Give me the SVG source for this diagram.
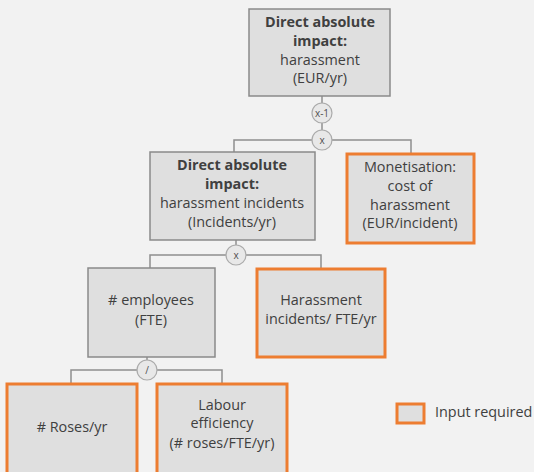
<svg xmlns="http://www.w3.org/2000/svg" width="534" height="472" viewBox="0 0 534 472">
  <style>
    .box { fill: #dfdfdf; stroke: #8a8a8a; stroke-width: 1.5; }
    .input { fill: #dfdfdf; stroke: #ed7d31; stroke-width: 3; }
    .op { fill: #e8e8e8; stroke: #ababab; stroke-width: 1.2; }
    .link { fill: none; stroke: #8f8f8f; stroke-width: 1.5; }
    text { font-family: "Open Sans", "Noto Sans", sans-serif; font-size: 14.4px; fill: #404040; text-anchor: middle; }
    .b { font-weight: bold; }
    .opt { font-size: 10px; fill: #505050; }
    .leg { text-anchor: start; }
  </style>
  <rect width="534" height="472" fill="#f2f2f2"/>

  <g id="connectors">
    <path class="link" d="M322 96 V140"/>
    <path class="link" d="M234 152 V140 H411 V154"/>
    <path class="link" d="M236 240 V255"/>
    <path class="link" d="M150 268 V255 H321 V269"/>
    <path class="link" d="M147 357 V370"/>
    <path class="link" d="M71 384 V370 H222 V384"/>
  </g>

  <g id="op-neg">
    <circle class="op" cx="322" cy="113" r="10"/>
    <text class="opt" x="322" y="117">x-1</text>
  </g>
  <g id="op-mul-top">
    <circle class="op" cx="322" cy="140" r="10"/>
    <text class="opt" x="322" y="144">x</text>
  </g>
  <g id="op-mul-mid">
    <circle class="op" cx="236" cy="255" r="10"/>
    <text class="opt" x="236" y="259">x</text>
  </g>
  <g id="op-div">
    <circle class="op" cx="147" cy="370" r="10"/>
    <text class="opt" x="147" y="374">/</text>
  </g>

  <g id="impact-eur">
    <rect class="box" x="249" y="9" width="141" height="87"/>
    <text class="b" x="320" y="27">Direct absolute</text>
    <text class="b" x="320" y="46">impact:</text>
    <text x="320" y="65">harassment</text>
    <text x="320" y="83">(EUR/yr)</text>
  </g>

  <g id="impact-incidents">
    <rect class="box" x="150" y="152" width="165" height="88"/>
    <text class="b" x="232" y="170">Direct absolute</text>
    <text class="b" x="232" y="189">impact:</text>
    <text x="232" y="208">harassment incidents</text>
    <text x="232" y="227">(Incidents/yr)</text>
  </g>

  <g id="monetisation">
    <rect class="input" x="347" y="154" width="127" height="89"/>
    <text x="410" y="172">Monetisation:</text>
    <text x="410" y="191">cost of</text>
    <text x="410" y="210">harassment</text>
    <text x="410" y="228">(EUR/incident)</text>
  </g>

  <g id="employees">
    <rect class="box" x="88" y="268" width="127" height="89"/>
    <text x="151" y="305">#&#160;employees</text>
    <text x="151" y="325">(FTE)</text>
  </g>

  <g id="incident-rate">
    <rect class="input" x="257" y="269" width="128" height="88"/>
    <text x="321" y="305">Harassment</text>
    <text x="321" y="324">incidents/ FTE/yr</text>
  </g>

  <g id="roses">
    <rect class="input" x="7" y="384" width="130" height="96"/>
    <text x="72" y="432">#&#160;Roses/yr</text>
  </g>

  <g id="labour-efficiency">
    <rect class="input" x="157" y="384" width="130" height="96"/>
    <text x="222" y="410">Labour</text>
    <text x="222" y="428">efficiency</text>
    <text x="222" y="448">(# roses/FTE/yr)</text>
  </g>

  <g id="legend">
    <rect class="input" x="397" y="404" width="27" height="19"/>
    <text class="leg" x="435" y="417">Input required</text>
  </g>
</svg>
